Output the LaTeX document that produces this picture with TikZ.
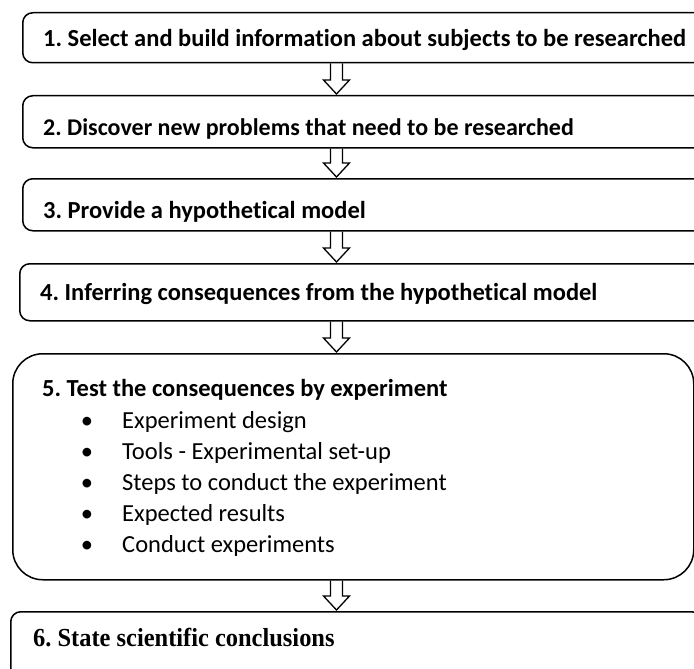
\documentclass[tikz,border=0pt]{standalone}
\usepackage{fontspec}
\setmainfont{Carlito}[Ligatures=NoCommon]
\newfontfamily\serifbf{Liberation Serif}[UprightFont={* Bold}, FakeStretch=0.94]
\usetikzlibrary{calc}
\frenchspacing
\tikzset{
  box/.style={draw=black, line width=1.5pt, rounded corners=10pt, rectangle, inner sep=0pt, anchor=north west},
  bigbox/.style={box, rounded corners=30pt},
  title/.style={anchor=base west, inner sep=0pt, font=\fontsize{24.5}{28}\selectfont\bfseries},
  item/.style={anchor=base west, inner sep=0pt, font=\fontsize{24.5}{28}\selectfont},
  dot/.style={anchor=base, inner sep=0pt, font=\fontsize{24.5}{28}\selectfont},
  lasttitle/.style={anchor=base west, inner sep=0pt, font=\fontsize{26}{30}\selectfont\serifbf},
  hollow/.style={draw=black, line width=1.3pt, line join=miter}
}
\newcommand\hollowarrow[2]{%
  \draw[hollow] ($(#1.south -| ax)+(-6,0)$) -- ($(#2.north -| ax)+(-6,-15)$)
    -- ($(#2.north -| ax)+(-13,-15)$) -- ($(#2.north -| ax)+(0,-1)$)
    -- ($(#2.north -| ax)+(13,-15)$) -- ($(#2.north -| ax)+(6,-15)$)
    -- ($(#1.south -| ax)+(6,0)$);}
\begin{document}
\begin{tikzpicture}[x=1pt,y=-1pt]
\path[use as bounding box, clip] (0,0) rectangle (694,669);
\fill[white] (0,0) rectangle (694,669);
\coordinate (ax) at (336.5,0);
% boxes
\node[box, minimum width=700pt, minimum height=50pt] (b1) at (22,12) {};
\node[box, minimum width=700pt, minimum height=52pt] (b2) at (22,95) {};
\node[box, minimum width=700pt, minimum height=52pt] (b3) at (22,178) {};
\node[box, minimum width=703pt, minimum height=57pt] (b4) at (19,263) {};
\node[bigbox, minimum width=681pt, minimum height=226pt] (b5) at (12,353) {};
\node[box, minimum width=691pt, minimum height=100pt] (b6) at (10,611) {};
% texts
\node[title] (t1) at (43,46.5) {1. Select and build information about subjects to be researched};
\node[title, font=\fontsize{24}{28}\selectfont\bfseries] (t2) at (43,135.5) {2. Discover new problems that need to be researched};
\node[title] (t3) at (43,218.5) {3. Provide a hypothetical model};
\node[title] (t4) at (40,300.5) {4. Inferring consequences from the hypothetical model};
\node[title] (t5) at (42,396.5) {5. Test the consequences by experiment};
\node[dot] (d1) at (87,428.3) {•};
\node[dot] (d2) at (87,459.3) {•};
\node[dot] (d3) at (87,490.3) {•};
\node[dot] (d4) at (87,521.3) {•};
\node[dot] (d5) at (87,552.3) {•};
\node[item] (i1) at (122,428.3) {Experiment design};
\node[item] (i2) at (122,459.3) {Tools - Experimental set-up};
\node[item] (i3) at (122,490.3) {Steps to conduct the experiment};
\node[item] (i4) at (122,521.3) {Expected results};
\node[item] (i5) at (122,552.3) {Conduct experiments};
\node[lasttitle] (t6) at (33,646.7) {6. State scientific conclusions};
% arrows
\hollowarrow{b1}{b2}
\hollowarrow{b2}{b3}
\hollowarrow{b3}{b4}
\hollowarrow{b4}{b5}
\hollowarrow{b5}{b6}
\end{tikzpicture}
\end{document}
